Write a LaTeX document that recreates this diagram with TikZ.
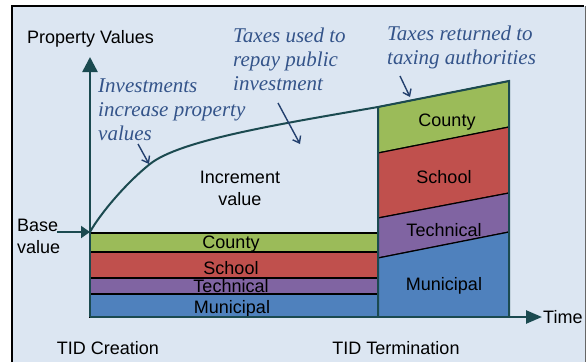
\documentclass[tikz,border=0pt]{standalone}
\usepackage{fontspec}
\setmainfont{Liberation Sans}
\newfontfamily\notefont{Liberation Serif}
\usetikzlibrary{arrows.meta,positioning}

\definecolor{bgblue}{RGB}{220,230,242}
\definecolor{axisteal}{RGB}{27,74,80}
\definecolor{noteblue}{RGB}{52,84,138}
\definecolor{pointblue}{RGB}{35,64,110}
\definecolor{county}{RGB}{155,187,89}
\definecolor{school}{RGB}{192,80,77}
\definecolor{technical}{RGB}{128,100,162}
\definecolor{municipal}{RGB}{79,129,189}

\begin{document}
\begin{tikzpicture}[x=1pt,y=-1pt,
    font=\fontsize{18}{22}\selectfont,
    every node/.style={inner sep=0pt},
    axis/.style={draw=axisteal,line width=2.5pt},
    edgeline/.style={draw=axisteal,line width=2pt},
    layer/.style={draw=black,line width=1.2pt},
    lab/.style={anchor=base},
    note/.style={text=noteblue,anchor=base west,align=left,
                 font=\notefont\itshape\fontsize{21}{24}\selectfont},
    pointer/.style={-{Straight Barb[length=6pt,width=9pt]},draw=pointblue,line width=1.4pt}]

  \useasboundingbox (0,0) rectangle (587,362);

  % frame
  \fill[bgblue] (12,6) rectangle (585,362);
  \draw[black!60,line width=0.8pt] (585,6) -- (585,362);
  \draw[black,line width=2.4pt] (12,362) -- (12,6) -- (584,6);

  \coordinate (o) at (90,317);
  \coordinate (ytop) at (90,57);
  \coordinate (xend) at (542,317);
  \coordinate (b) at (90,232);
  \coordinate (bs) at (57,232);
  \coordinate (t1) at (378,107);
  \coordinate (t2) at (509,81);

  % base value layers
  \filldraw[layer,fill=county] (90,233) rectangle (378,252);
  \node[lab] (lcounty) at (231,248) {County};
  \filldraw[layer,fill=school] (90,252) rectangle (378,278);
  \node[lab] (lschool) at (231,274) {School};
  \filldraw[layer,fill=technical] (90,278) rectangle (378,294);
  \node[lab] (ltech) at (231,292) {Technical};
  \filldraw[layer,fill=municipal] (90,294) rectangle (378,317);
  \node[lab] (lmuni) at (232,313) {Municipal};

  % termination layers
  \filldraw[layer,fill=county] (t1) -- (t2) -- (509,127) -- (378,153) -- cycle;
  \filldraw[layer,fill=school] (378,153) -- (509,127) -- (509,193) -- (378,218) -- cycle;
  \filldraw[layer,fill=technical] (378,218) -- (509,193) -- (509,232) -- (378,258) -- cycle;
  \filldraw[layer,fill=municipal] (378,258) -- (509,232) -- (509,317) -- (378,317) -- cycle;
  \node[lab] (rcounty) at (447,126) {County};
  \node[lab] (rschool) at (444,183) {School};
  \node[lab] (rtech) at (444,236) {Technical};
  \node[lab] (rmuni) at (444,290) {Municipal};

  \draw[edgeline] (378,317) -- (t1) -- (t2) -- (509,317);
  \draw[edgeline] (b) .. controls (100,214) and (126,183) .. (150,164)
                      .. controls (180,140) and (280,124) .. (t1);

  % axes
  \draw[axis,-{Triangle[length=15pt,width=15pt]}] (o) -- (ytop);
  \draw[axis,-{Triangle[length=16pt,width=13pt]}] (o) -- (xend);
  \draw[edgeline,-{Triangle[length=9pt,width=12pt]}] (bs) -- (b);

  % labels (multi-line: base is the last line)
  \node[anchor=base west] (pv) at (27,43) {Property Values};
  \node[anchor=base west,align=left] (base) at (17,253) {Base\\value};
  \node[anchor=base,align=center] (incr) at (240,205) {Increment\\value};
  \node[anchor=base] (creation) at (108,354) {TID Creation};
  \node[anchor=base] (termination) at (396,354) {TID Termination};
  \node (time) [right=1pt of xend] {Time};

  % notes
  \node[note] (n1) at (98,140) {Investments\\increase property\\values};
  \node[note] (n2) at (233,90) {Taxes used to\\repay public\\investment};
  \node[note] (n3) at (387,64) {Taxes returned to\\taxing authorities};

  \coordinate (p1s) at (138,144);
  \coordinate (p1e) at (149,164);
  \coordinate (p2s) at (278,103);
  \coordinate (p2e) at (300,144);
  \coordinate (p3s) at (400,76);
  \coordinate (p3e) at (410,97);
  \draw[pointer] (p1s) -- (p1e);
  \draw[pointer] (p2s) -- (p2e);
  \draw[pointer] (p3s) -- (p3e);
\end{tikzpicture}
\end{document}
